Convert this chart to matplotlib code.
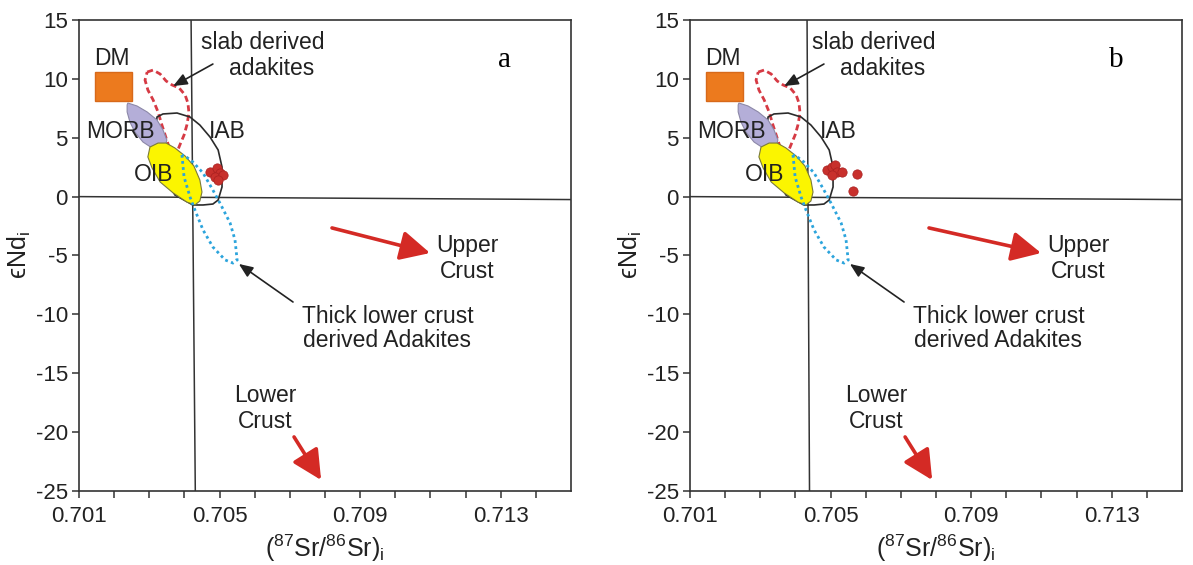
import matplotlib
matplotlib.use('Agg')
import matplotlib.pyplot as plt
from matplotlib.patches import Polygon, Rectangle

plt.rcParams['font.family'] = ['Liberation Sans', 'DejaVu Sans']
plt.rcParams['mathtext.fontset'] = 'custom'
plt.rcParams['mathtext.rm'] = 'Liberation Sans'
plt.rcParams['mathtext.it'] = 'Liberation Sans:italic'
plt.rcParams['axes.unicode_minus'] = False

# ---- data (87Sr/86Sr, eNd) ----
x_ticks = [0.701, 0.702, 0.703, 0.704, 0.705, 0.706, 0.707, 0.708,
           0.709, 0.710, 0.711, 0.712, 0.713, 0.714]
x_ticklabels = ['0.701', '', '', '', '0.705', '', '', '',
                '0.709', '', '', '', '0.713', '']
y_ticks = [15, 10, 5, 0, -5, -10, -15, -20, -25]

# DM box: x0, y0, width, height
dm_box = [0.70146, 8.1, 0.00105, 2.5]

morb_x = [0.70239, 0.70265, 0.70294, 0.70322, 0.70339, 0.70350, 0.70345,
          0.70331, 0.70308, 0.70282, 0.70259, 0.70245, 0.70237, 0.70237]
morb_y = [7.95, 7.70, 7.19, 6.51, 5.66, 4.81, 4.21, 4.04, 4.13, 4.64,
          5.49, 6.34, 7.19, 7.78]

oib_x = [0.70302, 0.70325, 0.70348, 0.70373, 0.70402, 0.70427, 0.70444,
         0.70450, 0.70444, 0.70430, 0.70407, 0.70368, 0.70331, 0.70308, 0.70296]
oib_y = [4.21, 4.55, 4.55, 4.13, 3.45, 2.60, 1.41, 0.39, -0.37, -0.71,
         -0.46, 0.31, 1.24, 2.43, 3.37]

iab_x = [0.70322, 0.70339, 0.70379, 0.70416, 0.70444, 0.70473, 0.70496,
         0.70507, 0.70507, 0.70496, 0.70481, 0.70453, 0.70424, 0.70373,
         0.70331, 0.70316]
iab_y = [6.76, 7.02, 7.10, 6.76, 6.08, 5.06, 3.96, 2.52, 0.82, -0.29,
         -0.63, -0.71, -0.71, 0.14, 2.26, 4.81]

slab_x = [0.70294, 0.70311, 0.70331, 0.70348, 0.70365, 0.70385, 0.70402,
          0.70410, 0.70413, 0.70407, 0.70399, 0.70387, 0.70379, 0.70359,
          0.70336, 0.70325, 0.70311, 0.70296, 0.70288]
slab_y = [10.58, 10.75, 10.41, 9.82, 9.48, 9.23, 8.63, 7.95, 7.10, 6.08,
          5.23, 4.38, 3.79, 3.96, 6.08, 7.19, 8.21, 9.06, 9.90]

thick_x = [0.70393, 0.70399, 0.70416, 0.70430, 0.70453, 0.70481, 0.70516,
           0.70538, 0.70550, 0.70544, 0.70530, 0.70501, 0.70481, 0.70453,
           0.70424, 0.70402]
thick_y = [3.54, 1.67, -0.03, -1.14, -2.83, -4.28, -5.38, -5.64, -5.38,
           -3.68, -2.24, -0.54, 0.56, 2.01, 2.94, 3.45]

# samples
a_sr = [0.70473, 0.70493, 0.70501, 0.70487, 0.70510, 0.70496]
a_nd = [2.09, 2.43, 2.01, 1.67, 1.84, 1.41]
b_sr = [0.70490, 0.70504, 0.70513, 0.70518, 0.70533, 0.70504, 0.70575, 0.70564]
b_nd = [2.26, 2.52, 2.69, 2.09, 2.09, 1.84, 1.92, 0.48]

# bulk earth reference line (slightly tilted in the original)
be_a = [0.70419, 0.70431]
be_b = [0.70433, 0.70440]
be_y = [15, -25]

# start of the "Upper Crust" arrow differs a little between panels
up_tail_a = (0.70820, -2.66)
up_tail_b = (0.70780, -2.66)

RED = '#d42a25'


def draw_panel(ax, sr, nd, be_x, up_tail, letter):
    ax.set_xlim(0.701, 0.715)
    ax.set_ylim(-25, 15)
    ax.plot(be_x, be_y, color='#333333', lw=1.1, zorder=1)
    ax.plot([0.701, 0.715], [0, -0.25], color='#333333', lw=1.1, zorder=1)

    ax.add_patch(Rectangle((dm_box[0], dm_box[1]), dm_box[2], dm_box[3],
                           facecolor='#ec7a1e', edgecolor='#d7691a', lw=1, zorder=3))
    ax.add_patch(Polygon(list(zip(slab_x, slab_y)), closed=True, fill=False,
                         edgecolor='#d63a44', lw=2, ls=(0, (2.2, 1.3)), zorder=2))
    ax.add_patch(Polygon(list(zip(iab_x, iab_y)), closed=True, fill=False,
                         edgecolor='#2b2b2b', lw=1.2, zorder=2))
    ax.add_patch(Polygon(list(zip(morb_x, morb_y)), closed=True,
                         facecolor='#b4aed8', edgecolor='#8c88a8', lw=0.8, zorder=4))
    ax.add_patch(Polygon(list(zip(oib_x, oib_y)), closed=True,
                         facecolor='#fbf500', edgecolor='#7a7a3a', lw=0.8, zorder=4))
    ax.add_patch(Polygon(list(zip(thick_x, thick_y)), closed=True, fill=False,
                         edgecolor='#2ca4dc', lw=2, ls=(0, (1, 1.2)), zorder=5))
    ax.scatter(sr, nd, s=45, color='#c8302c', edgecolors='#a82020',
               linewidths=0.5, zorder=6)

    fs = 16.5
    tc = '#222222'
    kw = dict(fontsize=fs, ha='center', va='center', color=tc)
    ax.text(0.70194, 11.77, 'DM', **kw)
    ax.text(0.70624, 13.13, 'slab derived', **kw)
    ax.text(0.70649, 10.92, 'adakites', **kw)
    ax.text(0.70217, 5.57, 'MORB', zorder=7, **kw)
    ax.text(0.70311, 1.84, 'OIB', zorder=7, **kw)
    ax.text(0.70521, 5.57, 'IAB', **kw)
    ax.text(0.71204, -4.11, 'Upper', **kw)
    ax.text(0.71204, -6.40, 'Crust', **kw)
    ax.text(0.70979, -10.14, 'Thick lower crust', **kw)
    ax.text(0.70976, -12.18, 'derived Adakites', **kw)
    ax.text(0.70629, -16.93, 'Lower', **kw)
    ax.text(0.70629, -19.14, 'Crust', **kw)
    ax.text(0.71312, 11.6, letter, fontsize=21, ha='center', va='center',
            family='Liberation Serif')

    black = dict(arrowstyle='-|>,head_length=0.6,head_width=0.25', color='#222222',
                 lw=1.2, mutation_scale=14, shrinkA=0, shrinkB=0)
    ax.annotate('', xy=(0.70368, 9.39), xytext=(0.70481, 11.26), arrowprops=black)
    ax.annotate('', xy=(0.70555, -5.72), xytext=(0.70709, -8.95), arrowprops=black)

    red = dict(arrowstyle='-|>,head_length=0.9,head_width=0.45', color=RED,
               lw=2.6, mutation_scale=20, shrinkA=0, shrinkB=0)
    ax.annotate('', xy=(0.71099, -4.79), xytext=up_tail, arrowprops=red)
    ax.annotate('', xy=(0.70789, -24.07), xytext=(0.70712, -20.41), arrowprops=red)

    ax.set_xticks(x_ticks)
    ax.set_xticklabels(x_ticklabels)
    ax.set_yticks(y_ticks)
    ax.tick_params(direction='out', length=5, width=1.1, color='#333333',
                   labelsize=16, labelcolor='#222222')
    ax.tick_params(axis='x', pad=6)
    ax.tick_params(axis='y', pad=3)
    for s in ax.spines.values():
        s.set_color('#333333')
        s.set_linewidth(1.2)
    ax.set_xlabel('($^{\\mathregular{87}}$Sr/$^{\\mathregular{86}}$Sr)$_\\mathregular{i}$',
                  fontsize=18, labelpad=4, color=tc)
    ax.set_ylabel('\u03f5Nd$_\\mathregular{i}$', fontsize=18, labelpad=2, color=tc)


fig = plt.figure(figsize=(11.93, 5.65), dpi=100)
ax1 = fig.add_axes([0.0662, 0.131, 0.4124, 0.8336])
ax2 = fig.add_axes([0.5784, 0.131, 0.4124, 0.8336])
draw_panel(ax1, a_sr, a_nd, be_a, up_tail_a, 'a')
draw_panel(ax2, b_sr, b_nd, be_b, up_tail_b, 'b')

fig.savefig('out.png', dpi=100)
